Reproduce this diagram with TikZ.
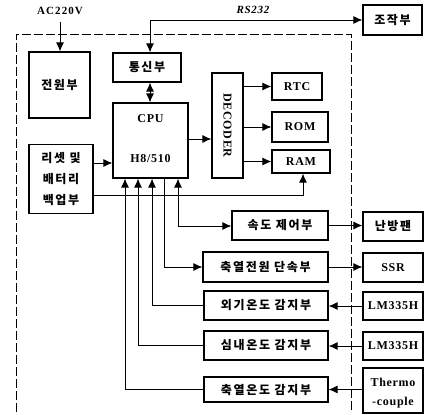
\documentclass[tikz,border=0pt]{standalone}
\usepackage{fontspec}
\setmainfont{Liberation Serif}
\newfontfamily\kr[LetterSpace=14]{Noto Sans CJK KR}
\usetikzlibrary{arrows.meta}
\begin{document}
\begin{tikzpicture}[x=1pt,y=-1pt,
  box/.style={draw,line width=1.2pt,inner sep=0pt,align=center,font=\kr\bfseries\fontsize{12}{17}\selectfont},
  lat/.style={box,font=\bfseries\addfontfeature{LetterSpace=6}\fontsize{12}{16}\selectfont},
  latt/.style={font=\bfseries\addfontfeature{LetterSpace=6}\fontsize{12}{16}\selectfont},
  conn/.style={line width=0.9pt,-{Latex[length=9pt,width=8pt]}},
  dconn/.style={line width=0.9pt,{Latex[length=9pt,width=8pt]}-{Latex[length=9pt,width=8pt]}}]
\useasboundingbox (0,0) rectangle (427,414);
% dashed boundary
\draw[line width=0.6pt,dash pattern=on 9pt off 3pt] (16,412) -- (16,34) -- (351,34) -- (351,412);
% nodes
\node[box,minimum width=61,minimum height=66] (pw) at (59.5,85) {전원부};
\node[box,minimum width=68,minimum height=29] (tx) at (147,67.5) {통신부};
\node[box,minimum width=75,minimum height=75] (cpu) at (150.5,140.5) {};
\node[latt] (cput) at (150.5,119) {CPU};
\node[latt] (cpuh) at (150.5,159) {H8/510};
\node[lat,minimum width=31,minimum height=105] (dec) at (227.5,125.5) {};
\node[latt,rotate=-90] (dect) at (dec.center) {DECODER};
\node[lat,minimum width=50,minimum height=27] (rtc) at (297,86.5) {RTC};
\node[lat,minimum width=56,minimum height=30] (rom) at (300,127) {ROM};
\node[lat,minimum width=58,minimum height=23] (ram) at (301,161.5) {RAM};
\node[box,minimum width=59,minimum height=30] (cx) at (392.5,20) {조작부};
\node[box,minimum width=64,minimum height=69,font=\kr\bfseries\fontsize{12}{21}\selectfont] (rst) at (61,179) {리셋 및\\배터리\\백업부};
\node[box,minimum width=96,minimum height=29] (spd) at (280,225.5) {속도 제어부};
\node[box,minimum width=125,minimum height=30] (sc) at (265.5,267) {축열전원 단속부};
\node[box,minimum width=60,minimum height=29] (fan) at (393,226.5) {난방팬};
\node[lat,minimum width=60,minimum height=29] (ssr) at (393,267.5) {SSR};
\node[box,minimum width=124,minimum height=29] (s1) at (266,305.5) {외기온도 감지부};
\node[box,minimum width=124,minimum height=29] (s2) at (266,345.5) {심내온도 감지부};
\node[box,minimum width=124,minimum height=25] (s3) at (266,389.5) {축열온도 감지부};
\node[lat,minimum width=60,minimum height=28] (lm1) at (393,306) {LM335H};
\node[lat,minimum width=60,minimum height=28] (lm2) at (393,346) {LM335H};
\node[lat,minimum width=60,minimum height=45] (tc) at (393,390.5) {};
\node[latt,align=center,font=\bfseries\addfontfeature{LetterSpace=6}\fontsize{12}{19}\selectfont] (tct) at (393,393) {Thermo\\-couple};
% labels
\node[latt,font=\bfseries\addfontfeature{LetterSpace=10}\fontsize{11}{13}\selectfont] (ac) at (60,11) {AC220V};
\node[latt,font=\bfseries\itshape\addfontfeature{LetterSpace=6}\fontsize{11}{13}\selectfont] (rs) at (253,10) {RS232};
\coordinate (acs) at (60,22);
% connectors
\draw[conn] (acs) -- (acs |- pw.north);
\draw[dconn] (tx.north -| 150,0) -- (150,20) -- (cx.west |- 0,20);
\draw[dconn] (tx.south -| 150,0) -- (cpu.north -| 150,0);
\draw[conn] (cpu.east |- 0,139) -- (dec.west |- 0,139);
\draw[conn] (dec.east |- rtc) -- (rtc.west);
\draw[conn] (dec.east |- rom) -- (rom.west);
\draw[conn] (dec.east |- ram) -- (ram.west);
\draw[conn] (rst.east |- 0,163) -- (cpu.west |- 0,163);
\draw[conn] (rst.east |- 0,195) -- (303,195) -- (ram.south -| 303,0);
\draw[dconn] (cpu.south -| 178,0) -- (178,226) -- (spd.west |- 0,226);
\draw[conn] (cpu.south -| 164,0) -- (164,267) -- (sc.west);
\draw[conn] (s1.west) -- (152,305.5) -- (cpu.south -| 152,0);
\draw[conn] (s2.west) -- (138,345.5) -- (cpu.south -| 138,0);
\draw[conn] (s3.west) -- (125,389.5) -- (cpu.south -| 125,0);
\draw[conn] (spd.east) -- (fan.west |- spd.east);
\draw[conn] (sc.east) -- (ssr.west |- sc.east);
\draw[conn] (lm1.west) -- (s1.east |- lm1.west);
\draw[conn] (lm2.west) -- (s2.east |- lm2.west);
\draw[conn] (tc.west |- s3.east) -- (s3.east);
\end{tikzpicture}
\end{document}
